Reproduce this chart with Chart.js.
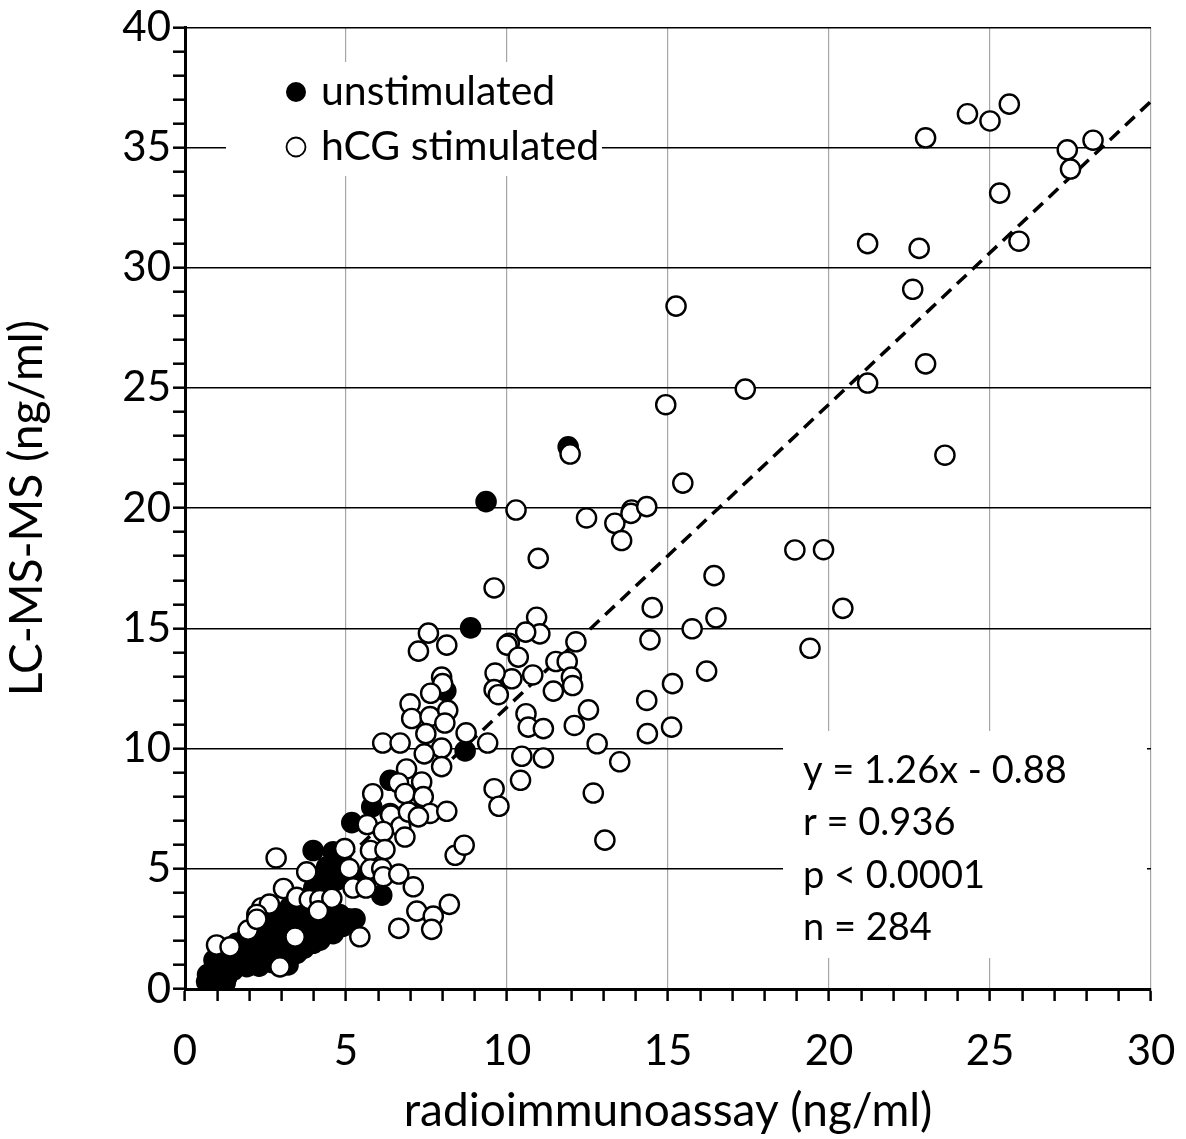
<!DOCTYPE html>
<html>
<head>
<meta charset="utf-8">
<script src="https://cdn.jsdelivr.net/npm/chart.js@4.4.1/dist/chart.umd.min.js"></script>
<style>
  html, body { margin: 0; padding: 0; background: #fff; }
</style>
</head>
<body>
<canvas id="myChart" width="1186" height="1139"></canvas>
<script>
// hCG stimulated samples [radioimmunoassay, LC-MS-MS]
const hcgPoints = [
  [23.0,35.4],[24.3,36.4],[25.0,36.1],[25.6,36.8],[27.4,34.9],[28.2,35.3],[27.5,34.1],[25.3,33.1],
  [21.2,31.0],[22.8,30.8],[25.9,31.1],[22.6,29.1],[23.0,26.0],[21.2,25.2],[23.6,22.2],
  [15.25,28.4],[17.4,24.95],[14.93,24.3],[15.46,21.04],[11.96,22.25],[10.28,19.92],[12.47,19.59],
  [13.35,19.37],[13.87,19.92],[13.85,19.78],[14.34,20.06],[13.56,18.65],[10.97,17.91],[18.94,18.26],
  [19.83,18.27],[16.43,17.19],[9.6,16.68],[14.51,15.86],[16.49,15.44],[14.44,14.52],[15.75,14.98],
  [19.41,14.17],[20.43,15.83],[16.2,13.22],[15.14,12.7],[14.34,12.0],[14.36,10.62],[15.11,10.89],
  [13.5,9.45],[13.04,6.19],[12.68,8.15],
  [10.92,15.46],[11.02,14.77],[10.58,14.84],[10.07,14.38],[10.0,14.3],[10.35,13.8],[12.14,14.44],
  [11.52,13.62],[11.87,13.62],[12.0,12.97],[12.04,12.62],[11.44,12.39],[10.8,13.06],[10.15,12.9],
  [9.63,13.14],[9.6,12.45],[9.73,12.24],[12.53,11.61],[10.59,11.45],[10.66,10.89],[11.13,10.83],
  [12.09,10.96],[12.8,10.2],[9.4,10.23],[8.73,10.65],[10.46,9.68],[11.13,9.61],[10.42,8.68],
  [9.6,8.33],[9.75,7.6],
  [7.56,14.8],[7.25,14.05],[8.13,14.3],[7.97,12.97],[8.0,12.7],[7.63,12.3],[6.99,11.86],[7.04,11.25],
  [7.61,11.33],[8.16,11.59],[8.07,11.06],[7.48,10.62],[7.97,10.02],[7.43,9.78],[7.97,9.25],[6.88,9.15],
  [7.35,8.61],[6.63,8.57],[6.83,8.13],[7.4,8.0],[6.37,7.3],[6.99,7.32],[7.61,7.3],[8.13,7.39],
  [6.14,10.23],[6.68,10.23],
  [5.83,8.12],[5.66,6.84],[6.39,7.23],[6.7,6.75],[6.94,7.36],[6.83,6.32],[7.25,7.16],[6.16,6.55],
  [4.96,5.84],[5.76,5.76],[6.21,5.8],[2.83,5.45],[3.78,4.87],[5.1,5.01],[5.76,4.99],[6.11,5.01],
  [6.16,4.67],[6.64,4.78],[5.22,4.2],[5.62,4.2],[7.09,4.25],[3.06,4.18],[3.47,3.81],[3.86,3.72],
  [4.19,3.72],[4.56,3.77],[2.38,3.38],[2.62,3.53],[2.23,3.1],[4.14,3.25],[1.96,2.45],[2.23,2.9],
  [3.42,2.16],[5.43,2.17],[6.64,2.52],[7.2,3.24],[7.71,3.03],[7.66,2.48],[8.21,3.52],[8.39,5.56],
  [8.67,5.98],[0.98,1.83],[1.4,1.75],[2.95,0.92]
];

// unstimulated samples [radioimmunoassay, LC-MS-MS]
const unstimPoints = [
  [11.9,22.55],[9.35,20.27],[8.87,15.02],[8.1,12.4],[8.7,9.9],[6.37,8.68],[5.8,7.57],[5.18,6.92],
  [3.98,5.76],[4.6,5.71],[6.11,3.9],[5.3,4.6],[4.9,5.22],[4.4,5.08],[4.71,4.53],[4.19,4.53],
  [5.07,2.92],[5.28,2.92],[4.6,2.7],[4.2,2.6],[4.6,2.3],[4.19,2.03],[3.98,1.9],[3.88,2.45],
  [3.47,1.48],[2.95,2.03],[2.43,1.76],[1.71,1.48],[1.09,1.07],[0.67,0.3],[0.8,0.15],[0.95,0.45],
  [1.09,0.65],[1.3,0.5],[1.5,0.79],[1.7,1.0],[1.92,0.93],[2.2,1.3],[2.43,1.2],[2.7,1.5],
  [3.16,2.87],[2.74,3.14],[3.47,3.14],[3.3,2.5],[3.6,2.8],[4.0,3.1],[4.5,2.87],[4.5,3.42],
  [4.1,3.6],[3.26,3.42],[2.23,2.17],[1.4,1.2],[1.92,2.17],[1.2,1.4],[0.7,0.6],[2.0,1.7],
  [2.6,2.5],[3.1,1.3],
  [0.75,0.05],[1.0,0.9],[1.25,0.25],[1.5,1.3],[1.8,1.7],[2.1,2.0],[2.5,2.1],[2.8,2.6],
  [3.0,2.3],[3.4,2.0],[3.7,1.7],[3.3,1.8],[2.0,1.2],[2.3,0.95],[2.7,1.1],[3.2,1.0],
  [3.6,2.4],[4.3,3.0],[3.8,3.3],[4.4,4.1],[4.0,4.2],[4.8,3.1],[2.9,3.0],[2.5,2.8],
  [1.6,1.9],[0.9,1.2],[3.9,2.1],[4.9,2.6]
];

// regression line printed on the chart
const slope = 1.26;
const intercept = -0.88;
const trendRange = [0.7, 30];

const xTickStep = 1;
const yTickStep = 1;
const labelEvery = 5;

const legendLabels = ['unstimulated', 'hCG stimulated'];
const statsLines = ['y = 1.26x - 0.88', 'r = 0.936', 'p < 0.0001', 'n = 284'];

Chart.defaults.font.family = 'Lato';
Chart.defaults.color = '#000';

const toXY = arr => arr.map(p => ({ x: p[0], y: p[1] }));
const trendData = trendRange.map(x => ({ x: x, y: slope * x + intercept }));

// white boxes behind legend and stats, then their text
const overlayPlugin = {
  id: 'overlay',
  beforeDatasetsDraw(chart) {
    const c = chart.ctx;
    c.save();
    c.fillStyle = '#fff';
    c.fillRect(226, 62, 376, 114);
    c.fillRect(783, 731, 364, 227);
    c.restore();
  },
  afterDraw(chart) {
    const c = chart.ctx;
    c.save();
    // legend
    c.fillStyle = '#000';
    c.beginPath();
    c.arc(296, 92, 10, 0, Math.PI * 2);
    c.fill();
    c.beginPath();
    c.arc(296, 147, 9.5, 0, Math.PI * 2);
    c.fillStyle = '#fff';
    c.fill();
    c.lineWidth = 1.8;
    c.strokeStyle = '#000';
    c.stroke();
    c.fillStyle = '#000';
    c.font = '41px Lato';
    c.textBaseline = 'alphabetic';
    c.fillText(legendLabels[0], 321, 105);
    c.fillText(legendLabels[1], 321, 160);
    // stats
    c.font = '38px Lato';
    statsLines.forEach((t, i) => c.fillText(t, 803, 783 + i * 52.3));
    c.restore();
  }
};

const ctx = document.getElementById('myChart');

new Chart(ctx, {
  type: 'scatter',
  data: {
    datasets: [
      {
        label: legendLabels[1],
        data: toXY(hcgPoints),
        backgroundColor: '#fff',
        borderColor: '#000',
        borderWidth: 2.4,
        pointRadius: 9.6,
        order: 1
      },
      {
        label: legendLabels[0],
        data: toXY(unstimPoints),
        backgroundColor: '#000',
        borderColor: '#000',
        borderWidth: 2.4,
        pointRadius: 9.6,
        order: 2
      },
      {
        label: 'trend',
        type: 'line',
        data: trendData,
        borderColor: '#000',
        borderWidth: 3.5,
        borderDash: [13, 8],
        pointRadius: 0,
        fill: false,
        order: 3
      }
    ]
  },
  options: {
    responsive: false,
    animation: false,
    events: [],
    layout: { padding: { top: 26, right: 35, left: 0, bottom: 0 } },
    plugins: {
      legend: { display: false },
      tooltip: { enabled: false }
    },
    scales: {
      x: {
        type: 'linear',
        min: 0,
        max: 30,
        afterFit: s => { s.height = 150; s.paddingLeft = 0; s.paddingRight = 0; },
        border: { color: '#000', width: 3 },
        grid: {
          color: c => (c.tick && c.tick.value > 0 && c.tick.value % labelEvery === 0) ? '#a6a6a6' : 'rgba(0,0,0,0)',
          lineWidth: 1.2,
          tickColor: '#000',
          tickWidth: 2.5,
          tickLength: 12
        },
        ticks: {
          stepSize: xTickStep,
          maxTicksLimit: 100,
          autoSkip: false,
          maxRotation: 0,
          padding: 25,
          font: { size: 42 },
          callback: v => v % labelEvery === 0 ? String(v) : ''
        },
        title: {
          display: true,
          text: 'radioimmunoassay (ng/ml)',
          font: { size: 46 },
          padding: { top: 0, bottom: 0 }
        }
      },
      y: {
        type: 'linear',
        min: 0,
        max: 40,
        afterFit: s => { s.width = 185; },
        border: { color: '#000', width: 3 },
        grid: {
          color: c => (c.tick && c.tick.value > 0 && c.tick.value % labelEvery === 0) ? '#000' : 'rgba(0,0,0,0)',
          lineWidth: 1.4,
          tickColor: '#000',
          tickWidth: 2.5,
          tickLength: 12
        },
        ticks: {
          stepSize: yTickStep,
          maxTicksLimit: 100,
          autoSkip: false,
          padding: 2,
          font: { size: 42 },
          callback: v => v % labelEvery === 0 ? String(v) : ''
        },
        title: {
          display: true,
          text: 'LC-MS-MS (ng/ml)',
          font: { size: 46 },
          padding: { top: 0, bottom: 0 }
        }
      }
    }
  },
  plugins: [overlayPlugin]
});
</script>
</body>
</html>
